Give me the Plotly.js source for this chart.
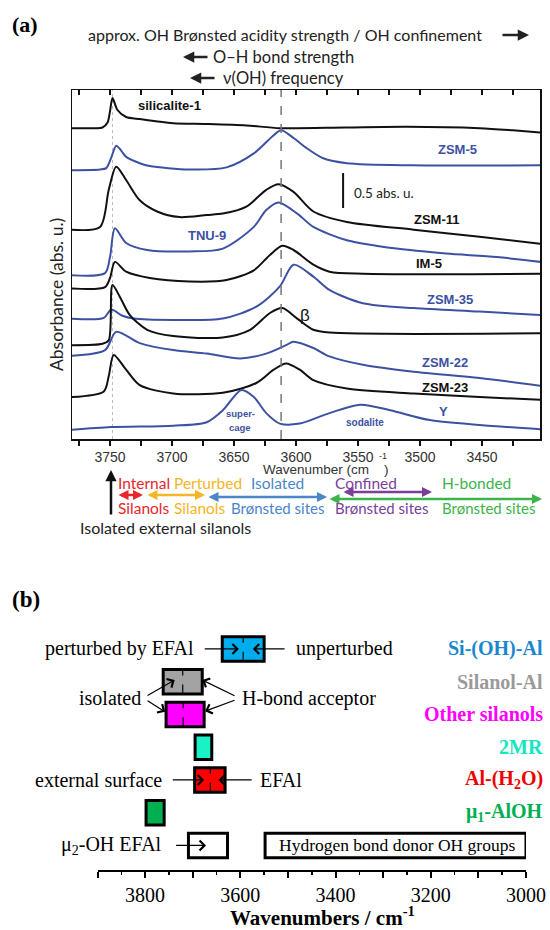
<!DOCTYPE html>
<html><head><meta charset="utf-8">
<script src="https://cdn.plot.ly/plotly-3.0.1.min.js"></script>
<style>html,body{margin:0;padding:0;background:#fff}#chart{width:550px;height:930px}</style>
</head><body><div id="chart"></div>
<script>
// ---------- Panel (a): IR spectra (stacked, absorbance incl. offset) ----------
const wnSilicalite = [3781,3762,3756,3752,3750,3748,3744,3737,3726,3713,3699,3672,3640,3613,3560,3511,3452,3425,3403];
const absSilicalite = [4.44,4.44,4.45,4.52,4.68,4.87,4.70,4.60,4.57,4.54,4.51,4.50,4.48,4.44,4.45,4.46,4.44,4.41,4.38];
const wnZSM5 = [3781,3758,3753,3749,3745,3741,3737,3726,3718,3686,3656,3634,3618,3612,3602,3591,3578,3559,3506,3403];
const absZSM5 = [3.84,3.85,3.87,4.02,4.19,4.12,4.03,3.94,3.90,3.85,3.88,4.08,4.34,4.41,4.30,4.15,4.01,3.94,3.91,3.91];
const wnZSM11 = [3781,3758,3751,3745,3737,3726,3712,3694,3672,3659,3640,3624,3614,3602,3586,3559,3505,3452,3403];
const absZSM11 = [2.99,3.03,3.56,3.89,3.70,3.41,3.25,3.17,3.20,3.22,3.32,3.56,3.64,3.53,3.25,3.10,2.99,2.89,2.79];
const wnTNU9 = [3781,3754,3750,3746,3737,3720,3686,3659,3634,3624,3614,3599,3586,3559,3519,3479,3438,3403];
const absTNU9 = [2.34,2.37,2.60,3.01,2.80,2.70,2.68,2.72,3.03,3.27,3.38,3.22,3.03,2.84,2.72,2.65,2.60,2.53];
const wnIM5 = [3781,3754,3750,3746,3737,3718,3686,3656,3634,3621,3611,3602,3586,3573,3546,3403];
const absIM5 = [2.15,2.17,2.30,2.53,2.39,2.30,2.25,2.27,2.41,2.63,2.76,2.70,2.49,2.39,2.36,2.36];
const wnZSM35 = [3781,3755,3749,3740,3731,3699,3659,3632,3613,3602,3586,3573,3546,3505,3452,3403];
const absZSM35 = [1.72,1.73,1.85,1.76,1.72,1.70,1.72,1.89,2.18,2.49,2.32,2.13,1.94,1.87,1.82,1.77];
const wnBeta = [3781,3756,3751,3748,3742,3734,3720,3699,3659,3637,3621,3611,3599,3586,3573,3403];
const absBeta = [1.34,1.36,1.41,2.20,2.03,1.77,1.56,1.47,1.45,1.56,1.80,1.87,1.72,1.56,1.52,1.51];
const wnZSM22 = [3781,3754,3745,3726,3699,3672,3645,3624,3608,3602,3586,3573,3546,3505,3452,3403];
const absZSM22 = [1.19,1.27,1.53,1.37,1.27,1.22,1.15,1.22,1.34,1.39,1.30,1.18,1.06,0.96,0.87,0.76];
const wnZSM23 = [3781,3755,3751,3747,3737,3726,3699,3659,3632,3618,3608,3597,3586,3559,3505,3452,3403];
const absZSM23 = [0.60,0.68,0.90,1.20,0.99,0.77,0.65,0.66,0.80,0.99,1.08,0.99,0.84,0.72,0.65,0.60,0.56];
const wnY = [3781,3749,3699,3672,3659,3644,3634,3624,3613,3597,3573,3548,3524,3492,3452,3403];
const absY = [0.13,0.17,0.19,0.24,0.41,0.70,0.60,0.37,0.22,0.22,0.37,0.49,0.41,0.27,0.20,0.14];

const spectraNames = ['silicalite-1','ZSM-5','ZSM-11','TNU-9','IM-5','ZSM-35','β','ZSM-22','ZSM-23','Y'];
const labelWn  = [3702,3470,3486,3672,3493,3476,3593,3480,3480,3481];
const labelAbs = [4.77,4.13,3.13,2.91,2.51,1.99,1.77,1.10,0.74,0.39];

// ---------- Panel (b): wavenumber ranges of OH groups ----------
const boxNames  = ['Si-(OH)-Al','Silanol-Al','Other silanols','2MR','Al-(H2O)','μ1-AlOH','μ2-OH EFAl','H-bond donor'];
const boxHigh   = [3638,3762,3756,3695,3696,3798,3709,3548];
const boxLow    = [3550,3680,3676,3660,3632,3760,3627,3000];
const boxMedian = [3594,3721,3720,null,3663,null,null,null];
const boxRow    = [6,5,4,3,2,1,0,0];
const boxFill   = ['#00aeef','#a3a3a3','#ff00ff','#1af2c6','#ff0000','#00b050','#ffffff','#ffffff'];
const legendText = ['Si-(OH)-Al','Silanol-Al','Other silanols','2MR','Al-(H<sub>2</sub>O)','μ<sub>1</sub>-AlOH'];
const legendColor = ['#1a86d0','#9a9a9a','#ff00ff','#14e6bf','#ee0000','#00b050'];
const legendRow = [6,5,4,3,2,1];

const W=550,H=930;
const X=px=>px/W, Y=py=>1-py/H;
const BLACK='#111', BLUE='#3d51a3';
const SANS='Lato, Calibri, sans-serif', ARIAL='Liberation Sans, Arial, sans-serif', SERIF='Liberation Serif, Times New Roman, serif';

const spectra = [
  [wnSilicalite,absSilicalite],[wnZSM5,absZSM5],[wnZSM11,absZSM11],[wnTNU9,absTNU9],[wnIM5,absIM5],
  [wnZSM35,absZSM35],[wnBeta,absBeta],[wnZSM22,absZSM22],[wnZSM23,absZSM23],[wnY,absY]];
const specColor = [BLACK,BLUE,BLACK,BLUE,BLACK,BLUE,BLACK,BLUE,BLACK,BLUE];

const traces = spectra.map((s,i)=>({
  type:'scatter', mode:'lines', x:s[0], y:s[1], xaxis:'x', yaxis:'y',
  line:{color:specColor[i], width:2, shape:'spline', smoothing:0.8}, hoverinfo:'skip', name:spectraNames[i]
}));
traces.push({type:'scatter', mode:'markers', x:[3600], y:[-10], xaxis:'x3', yaxis:'y', marker:{size:1,opacity:0}, hoverinfo:'skip'});
traces.push({
  type:'bar', orientation:'h', xaxis:'x2', yaxis:'y2',
  y:boxRow, base:boxLow, x:boxHigh.map((h,i)=>h-boxLow[i]), width:0.75,
  marker:{color:boxFill, line:{color:'#000', width:3}}, hoverinfo:'skip'
});

const ann = [];
function t(text, x, y, o){ ann.push(Object.assign({text, x, y, xref:'paper', yref:'paper', showarrow:false, xanchor:'left', yanchor:'middle'}, o||{})); }
function arrowPx(hx, hy, tx, ty, o){ ann.push(Object.assign({text:'', x:X(hx), y:Y(hy), xref:'paper', yref:'paper', ax:tx-hx, ay:ty-hy, showarrow:true, arrowhead:2, arrowsize:0.9, arrowwidth:2.5, arrowcolor:'#222'}, o||{})); }

// header panel (a)
t('<b>(a)</b>', X(10), Y(25), {font:{family:SERIF, size:22, color:'#000'}});
t('approx. OH Brønsted acidity strength / OH confinement', X(86), Y(35), {font:{family:SANS, size:16, color:'#222'}});
arrowPx(529,35,501,35,{arrowcolor:'#222'});
t('O–H bond strength', X(211), Y(57), {font:{family:SANS, size:16.5, color:'#222'}});
arrowPx(183,57,209,57,{arrowcolor:'#222'});
t('ν(OH) frequency', X(221), Y(78), {font:{family:SANS, size:16.5, color:'#222'}});
arrowPx(190,78,216,78,{arrowcolor:'#222'});
t('Absorbance (abs. u.)', X(57), Y(295), {textangle:-90, xanchor:'center', font:{family:SANS, size:17.5, color:'#222'}});

// spectrum labels
spectraNames.forEach((n,i)=>{
  const isBeta = n==='β';
  ann.push({text: isBeta? 'β' : '<b>'+n+'</b>', x:labelWn[i], y:labelAbs[i], xref:'x', yref:'y', showarrow:false,
    font:{family:ARIAL, size: isBeta?17:13, color:specColor[i]}});
});
ann.push({text:'<b>super-</b>', x:3645, y:0.36, xref:'x', yref:'y', showarrow:false, font:{family:ARIAL, size:9.5, color:BLUE}});
ann.push({text:'<b>cage</b>', x:3645, y:0.16, xref:'x', yref:'y', showarrow:false, font:{family:ARIAL, size:9.5, color:BLUE}});
ann.push({text:'<b>sodalite</b>', x:3544, y:0.24, xref:'x', yref:'y', showarrow:false, font:{family:ARIAL, size:10, color:BLUE}});
ann.push({text:'0.5 abs. u.', x:3555, y:3.51, xref:'x', yref:'y', xanchor:'left', showarrow:false, font:{family:SANS, size:13.5, color:'#222'}});

// axis title (a)
t('Wavenumber (cm    )', X(326), Y(469), {xanchor:'center', font:{family:ARIAL, size:13.5, color:'#333'}});
t('-1', X(383), Y(456), {xanchor:'center', font:{family:ARIAL, size:9, color:'#333'}});

// region labels below panel (a)
const cRed='#e8262b', cOra='#f5b526', cBlu='#4a86c8', cPur='#7b3f98', cGrn='#3cb44b';
arrowPx(111,470,111,516,{arrowcolor:'#111'});
t('Internal', X(116), Y(483), {font:{family:SANS, size:15.5, color:cRed}});
t('Perturbed', X(172), Y(483), {font:{family:SANS, size:15.5, color:cOra}});
t('Isolated', X(249), Y(483), {font:{family:SANS, size:15.5, color:cBlu}});
t('Confined', X(333), Y(483), {font:{family:SANS, size:15.5, color:cPur}});
t('H-bonded', X(440), Y(483), {font:{family:SANS, size:15.5, color:cGrn}});
t('Silanols', X(116), Y(508), {font:{family:SANS, size:15.5, color:cRed}});
t('Silanols', X(172), Y(508), {font:{family:SANS, size:15.5, color:cOra}});
t('Brønsted sites', X(229), Y(508), {font:{family:SANS, size:15, color:cBlu}});
t('Brønsted sites', X(333), Y(508), {font:{family:SANS, size:15, color:cPur}});
t('Brønsted sites', X(440), Y(508), {font:{family:SANS, size:15, color:cGrn}});
t('Isolated external silanols', X(78), Y(527), {font:{family:SANS, size:16, color:'#222'}});
const dbl = {arrowside:'end+start', arrowhead:2, startarrowhead:2, arrowsize:0.8, startarrowsize:0.8, arrowwidth:2.5};
arrowPx(143,495,117,495,Object.assign({arrowcolor:cRed},dbl));
arrowPx(205,495,146,495,Object.assign({arrowcolor:cOra},dbl));
arrowPx(327,497,207,497,Object.assign({arrowcolor:cBlu},dbl));
arrowPx(432,492,342,492,Object.assign({arrowcolor:cPur},dbl));
arrowPx(542,499,328,499,Object.assign({arrowcolor:cGrn},dbl));

// panel (b)
t('<b>(b)</b>', X(10), Y(599), {font:{family:SERIF, size:23, color:'#000'}});
legendText.forEach((s,i)=>ann.push({text:'<b>'+s+'</b>', x:X(545), y:legendRow[i], xref:'paper', yref:'y2', xanchor:'right', yanchor:'middle', showarrow:false, font:{family:SERIF, size:20, color:legendColor[i]}}));
function tb(text, x, y, anchor, size){ ann.push({text, x, y, xref:'x2', yref:'y2', xanchor:anchor, yanchor:'middle', showarrow:false, font:{family:SERIF, size:size||20, color:'#000'}}); }
function ab(hx, hy, tx, ty){ ann.push({text:'', x:hx, y:hy, ax:tx, ay:ty, xref:'x2', yref:'y2', axref:'x2', ayref:'y2', showarrow:true, arrowhead:4, arrowsize:1.6, arrowwidth:1.2, arrowcolor:'#000'}); }
tb('perturbed by EFAl', 3694, 6, 'right');
ab(3603, 6, 3678, 6);
tb('unperturbed', 3488, 6, 'left');
ab(3574, 6, 3504, 6);
tb('isolated', 3804, 4.5, 'right');
ab(3738, 5.05, 3798, 4.55);
ab(3758, 4.08, 3798, 4.45);
tb('H-bond acceptor', 3601, 4.5, 'left');
ab(3680, 5.05, 3609, 4.55);
ab(3674, 4.1, 3609, 4.45);
tb('external surface', 3760, 2, 'right');
ab(3676, 2, 3745, 2);
tb('EFAl', 3562, 2, 'left');
ab(3646, 2, 3573, 2);
tb('μ<sub>2</sub>-OH EFAl', 3760, 0, 'right');
ab(3672, 0, 3738, 0);
tb('Hydrogen bond donor OH groups', 3272, 0, 'center', 17.5);
t('<b>Wavenumbers / cm<sup>-1</sup></b>', X(322), Y(916), {xanchor:'center', font:{family:SERIF, size:21, color:'#000'}});

const shapes = [
  {type:'line', xref:'x', yref:'y domain', x0:3612, x1:3612, y0:0, y1:1, line:{color:'#777', width:1.5, dash:'dash'}},
  {type:'line', xref:'x', yref:'y domain', x0:3748, x1:3748, y0:0, y1:1, line:{color:'#bbb', width:1, dash:'dot'}, layer:'below'},
  {type:'line', xref:'x', yref:'y', x0:3562, x1:3562, y0:3.30, y1:3.80, line:{color:'#111', width:2}}
];
boxMedian.forEach((m,i)=>{ if(m!==null) shapes.push({type:'line', xref:'x2', yref:'y2', x0:m, x1:m, y0:boxRow[i]-0.36, y1:boxRow[i]+0.36, line:{color:'#000', width:1.2, dash:'dash'}}); });

const xr = [3780.65, 3403.2];
const layout = {
  width:W, height:H, margin:{l:0,r:0,t:0,b:0}, showlegend:false,
  paper_bgcolor:'#fff', plot_bgcolor:'rgba(0,0,0,0)',
  xaxis:{domain:[72/W,540/W], range:xr, anchor:'y', showline:true, mirror:true, linecolor:'#111', linewidth:1.5,
    ticks:'outside', ticklen:5, tickwidth:1.2, tickcolor:'#111', tick0:3750, dtick:50,
    minor:{tick0:3750, dtick:25, ticks:'outside', ticklen:5, tickwidth:1.2, tickcolor:'#111'},
    showgrid:false, zeroline:false, tickfont:{family:ARIAL, size:14, color:'#333'}},
  xaxis3:{overlaying:'x', side:'top', anchor:'y', range:xr, showline:false, ticks:'inside', ticklen:5, tickwidth:1.2, tickcolor:'#111',
    tick0:3750, dtick:25, showticklabels:false, showgrid:false, zeroline:false},
  yaxis:{domain:[1-439/H, 1-90/H], range:[0,4.9857], showline:true, mirror:true, linecolor:'#111', linewidth:1.5,
    ticks:'', showticklabels:false, showgrid:false, zeroline:false},
  xaxis2:{domain:[97.5/W,526/W], range:[3900,3000], anchor:'y2', showline:true, linecolor:'#000', linewidth:2,
    ticks:'outside', ticklen:6, tickwidth:2, tickcolor:'#000',
    tickvals:[3900,3800,3700,3600,3500,3400,3300,3200,3100,3000], ticktext:['','3800','','3600','','3400','','3200','','3000'],
    minor:{tickvals:[3850,3750,3650,3550,3450,3350,3250,3150,3050], ticks:'outside', ticklen:3, tickwidth:1.5, tickcolor:'#000'},
    showgrid:false, zeroline:false, tickfont:{family:SERIF, size:20, color:'#000'}},
  yaxis2:{domain:[1-870/H, 1-629.3/H], range:[-0.75,6.6], visible:false, showgrid:false, zeroline:false},
  annotations:ann, shapes:shapes
};
Plotly.newPlot('chart', traces, layout, {staticPlot:true, displayModeBar:false});
</script></body></html>
